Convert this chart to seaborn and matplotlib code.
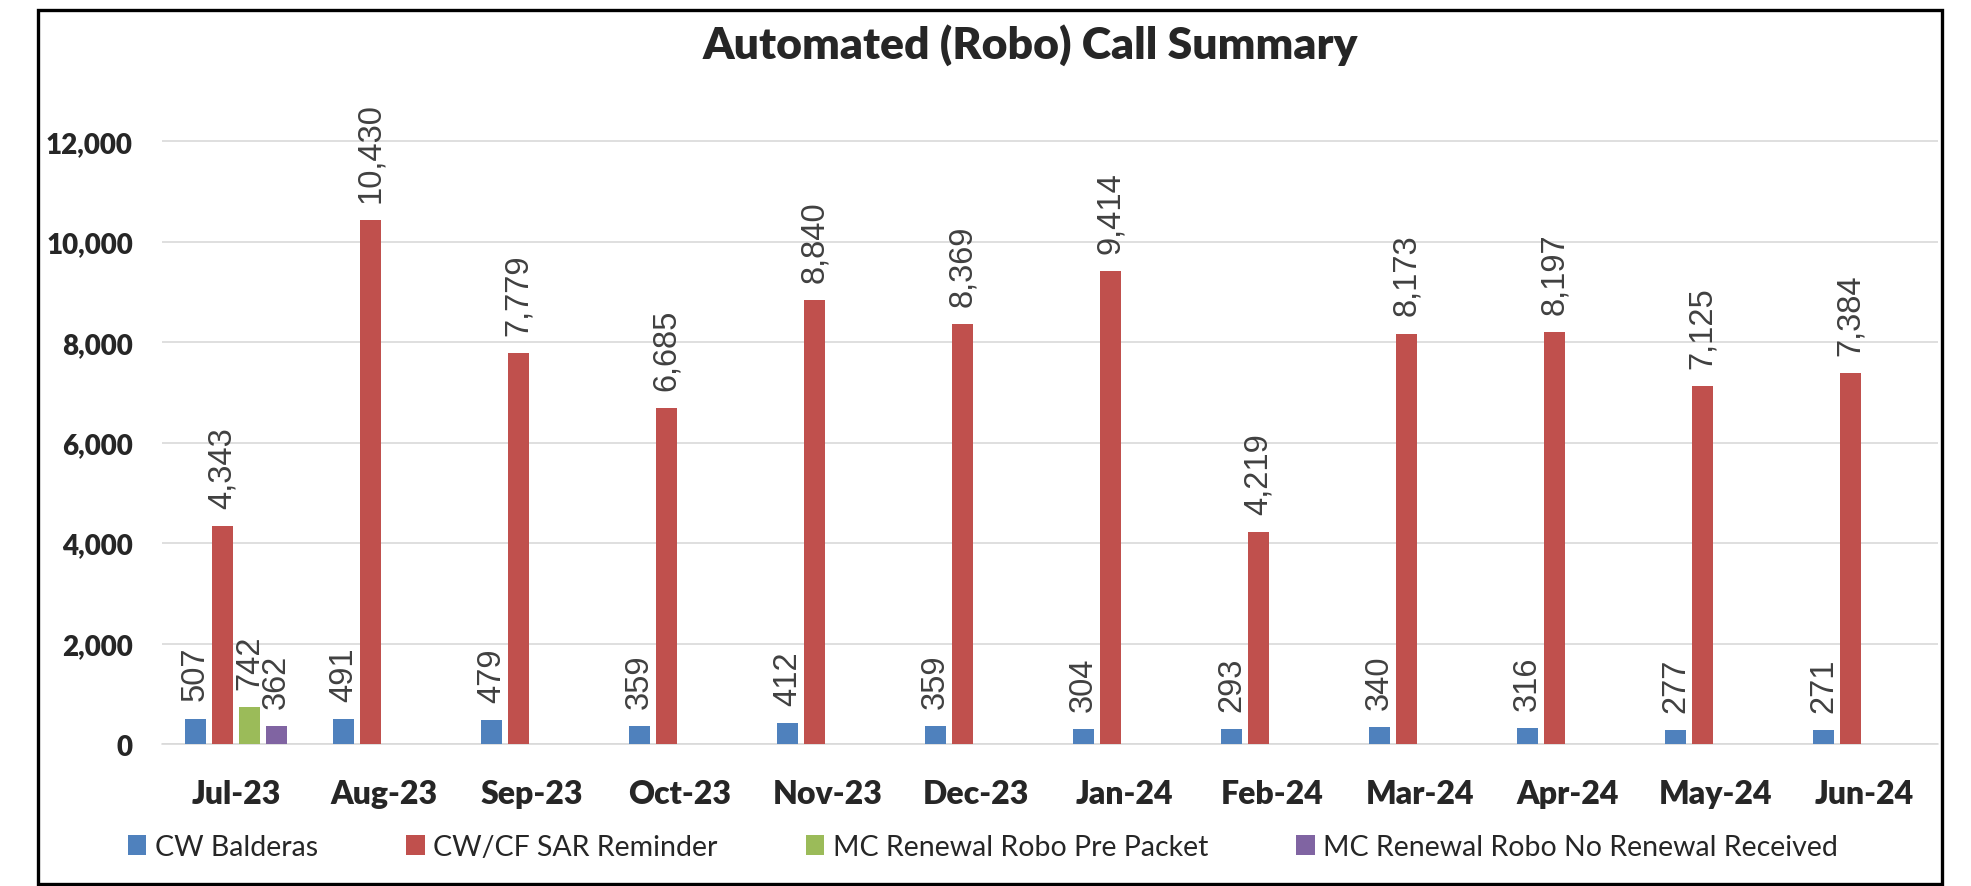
import matplotlib
matplotlib.use("Agg")
import matplotlib.pyplot as plt
import pandas as pd
import seaborn as sns
from matplotlib.patches import Rectangle

# ---- data ----
months = ["Jul-23", "Aug-23", "Sep-23", "Oct-23", "Nov-23", "Dec-23",
          "Jan-24", "Feb-24", "Mar-24", "Apr-24", "May-24", "Jun-24"]
series_names = ["CW Balderas", "CW/CF SAR Reminder",
                "MC Renewal Robo Pre Packet", "MC Renewal Robo No Renewal Received"]
cw_balderas = [507, 491, 479, 359, 412, 359, 304, 293, 340, 316, 277, 271]
sar_reminder = [4343, 10430, 7779, 6685, 8840, 8369, 9414, 4219, 8173, 8197, 7125, 7384]
pre_packet = [742, None, None, None, None, None, None, None, None, None, None, None]
no_renewal = [362, None, None, None, None, None, None, None, None, None, None, None]
y_ticks = [0, 2000, 4000, 6000, 8000, 10000, 12000]
title = "Automated (Robo) Call Summary"
colors = ["#4F81BD", "#C0504D", "#9BBB59", "#8064A2"]

rows = []
for name, vals in zip(series_names, [cw_balderas, sar_reminder, pre_packet, no_renewal]):
    for m, v in zip(months, vals):
        if v is not None:
            rows.append({"Month": m, "Series": name, "Calls": v})
df = pd.DataFrame(rows)

sns.set_style("white")
plt.rcParams["font.family"] = ["Lato", "DejaVu Sans"]

fig = plt.figure(figsize=(19.71, 8.87), dpi=100)
ax = fig.add_axes([162 / 1971, 1 - 745 / 887, (1938 - 162) / 1971, (745 - 72) / 887])

sns.barplot(data=df, x="Month", y="Calls", hue="Series", order=months,
            hue_order=series_names, palette=colors, saturation=1, width=0.73, gap=0.22,
            dodge=True, errorbar=None, linewidth=0, ax=ax)

handles, labels = ax.get_legend_handles_labels()
if ax.get_legend() is not None:
    ax.get_legend().remove()

for c in ax.containers:
    ax.bar_label(c, labels=[f"{v:,.0f}" for v in c.datavalues], rotation=90,
                 padding=13, fontsize=23.5, color="#404040",
                 fontfamily="Liberation Sans")

ax.set_xlim(-0.5, len(months) - 0.5)
ax.set_ylim(0, 13400)
ax.set_yticks(y_ticks)
ax.set_yticklabels([f"{t:,}" for t in y_ticks], fontsize=20, fontweight="heavy")
ax.set_xticks(range(len(months)))
ax.set_xticklabels(months, fontsize=23, fontweight="heavy")
ax.set_xlabel("")
ax.set_ylabel("")
ax.tick_params(axis="y", length=0, pad=21)
ax.tick_params(axis="x", length=0, pad=25)
ax.yaxis.grid(True, color="#D9D9D9", linewidth=1.2)
ax.xaxis.grid(False)
ax.set_axisbelow(True)
ax.axhline(0, color="#D9D9D9", linewidth=1.2, clip_on=False, zorder=0.5)
for s in ax.spines.values():
    s.set_visible(False)

fig.legend(handles, labels, loc="center", bbox_to_anchor=(983 / 1971, 1 - 848 / 887),
           ncol=4, frameon=False, fontsize=20.5, handlelength=0.65, handleheight=0.65,
           handletextpad=0.3, columnspacing=3.1)

fig.text(1030 / 1971, 1 - 45 / 887, title, ha="center", va="center",
         fontsize=32, fontweight="heavy")

fig.patches.append(Rectangle((38 / 1971, 2 / 887), (1942 - 38) / 1971, (885 - 11) / 887,
                             transform=fig.transFigure, fill=False,
                             edgecolor="black", linewidth=2.4))

fig.savefig("out.png", dpi=100, facecolor="white")
